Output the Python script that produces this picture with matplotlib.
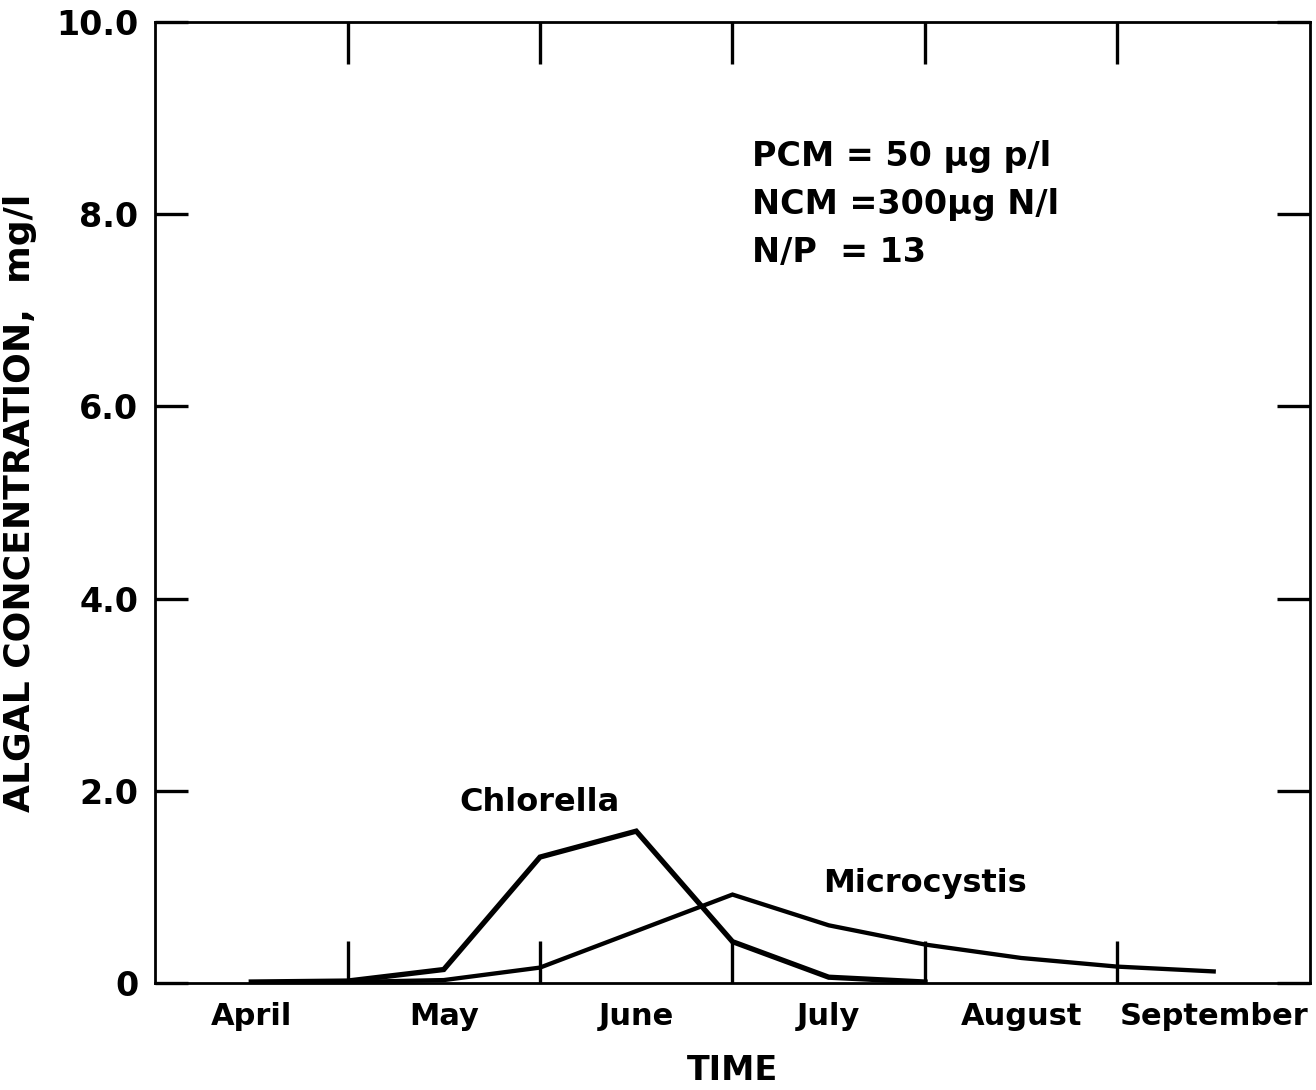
import matplotlib
matplotlib.use("Agg")
import matplotlib.pyplot as plt

# months on x in units of one month, 0 = start of April
months = ["April", "May", "June", "July", "August", "September"]
yticks = [0, 2.0, 4.0, 6.0, 8.0, 10.0]
ytick_labels = ["0", "2.0", "4.0", "6.0", "8.0", "10.0"]

chl_x = [0.5, 1.0, 1.5, 2.0, 2.5, 3.0, 3.5, 4.0]
chl_y = [0.01, 0.02, 0.14, 1.31, 1.58, 0.43, 0.06, 0.01]

mic_x = [0.5, 1.0, 1.5, 2.0, 2.5, 3.0, 3.5, 4.0, 4.5, 5.0, 5.5]
mic_y = [0.0, 0.01, 0.03, 0.16, 0.54, 0.92, 0.60, 0.40, 0.26, 0.17, 0.12]

plt.rcParams["font.family"] = "DejaVu Sans"

fig = plt.figure(figsize=(13.16, 10.9), dpi=100)
ax = fig.add_axes([0.1178, 0.0982, 0.8776, 0.8816])

ax.plot(chl_x, chl_y, color="black", lw=3.8, solid_joinstyle="miter")
ax.plot(mic_x, mic_y, color="black", lw=3.1, solid_joinstyle="miter")

ax.set_xlim(0, 6)
ax.set_ylim(0, 10)

for s in ax.spines.values():
    s.set_linewidth(2.0)

ax.set_xticks([1, 2, 3, 4, 5])
ax.set_xticklabels([])
ax.set_xticks([i + 0.5 for i in range(6)], minor=True)
ax.set_xticklabels(months, minor=True, fontsize=22, fontweight="bold")
ax.tick_params(axis="x", which="major", direction="in", length=30, width=2.4,
               top=True, bottom=True)
ax.tick_params(axis="x", which="minor", length=0, pad=14)

ax.set_yticks(yticks)
ax.set_yticklabels(ytick_labels, fontsize=24, fontweight="bold")
ax.tick_params(axis="y", direction="in", length=24, width=2.4,
               left=True, right=True, pad=12)

ax.set_xlabel("TIME", fontsize=24, fontweight="bold", labelpad=16)
ax.set_ylabel("ALGAL CONCENTRATION,  mg/l", fontsize=26, fontweight="bold",
              labelpad=14)

ax.text(3.1, 8.5, "PCM = 50 \u03bcg p/l", fontsize=24, fontweight="bold")
ax.text(3.1, 8.0, "NCM =300\u03bcg N/l", fontsize=24, fontweight="bold")
ax.text(3.1, 7.5, "N/P  = 13", fontsize=24, fontweight="bold")

ax.text(2.0, 1.88, "Chlorella", fontsize=23, fontweight="bold",
        ha="center", va="center")
ax.text(4.0, 1.03, "Microcystis", fontsize=23, fontweight="bold",
        ha="center", va="center")

fig.savefig("out.png", dpi=100)
